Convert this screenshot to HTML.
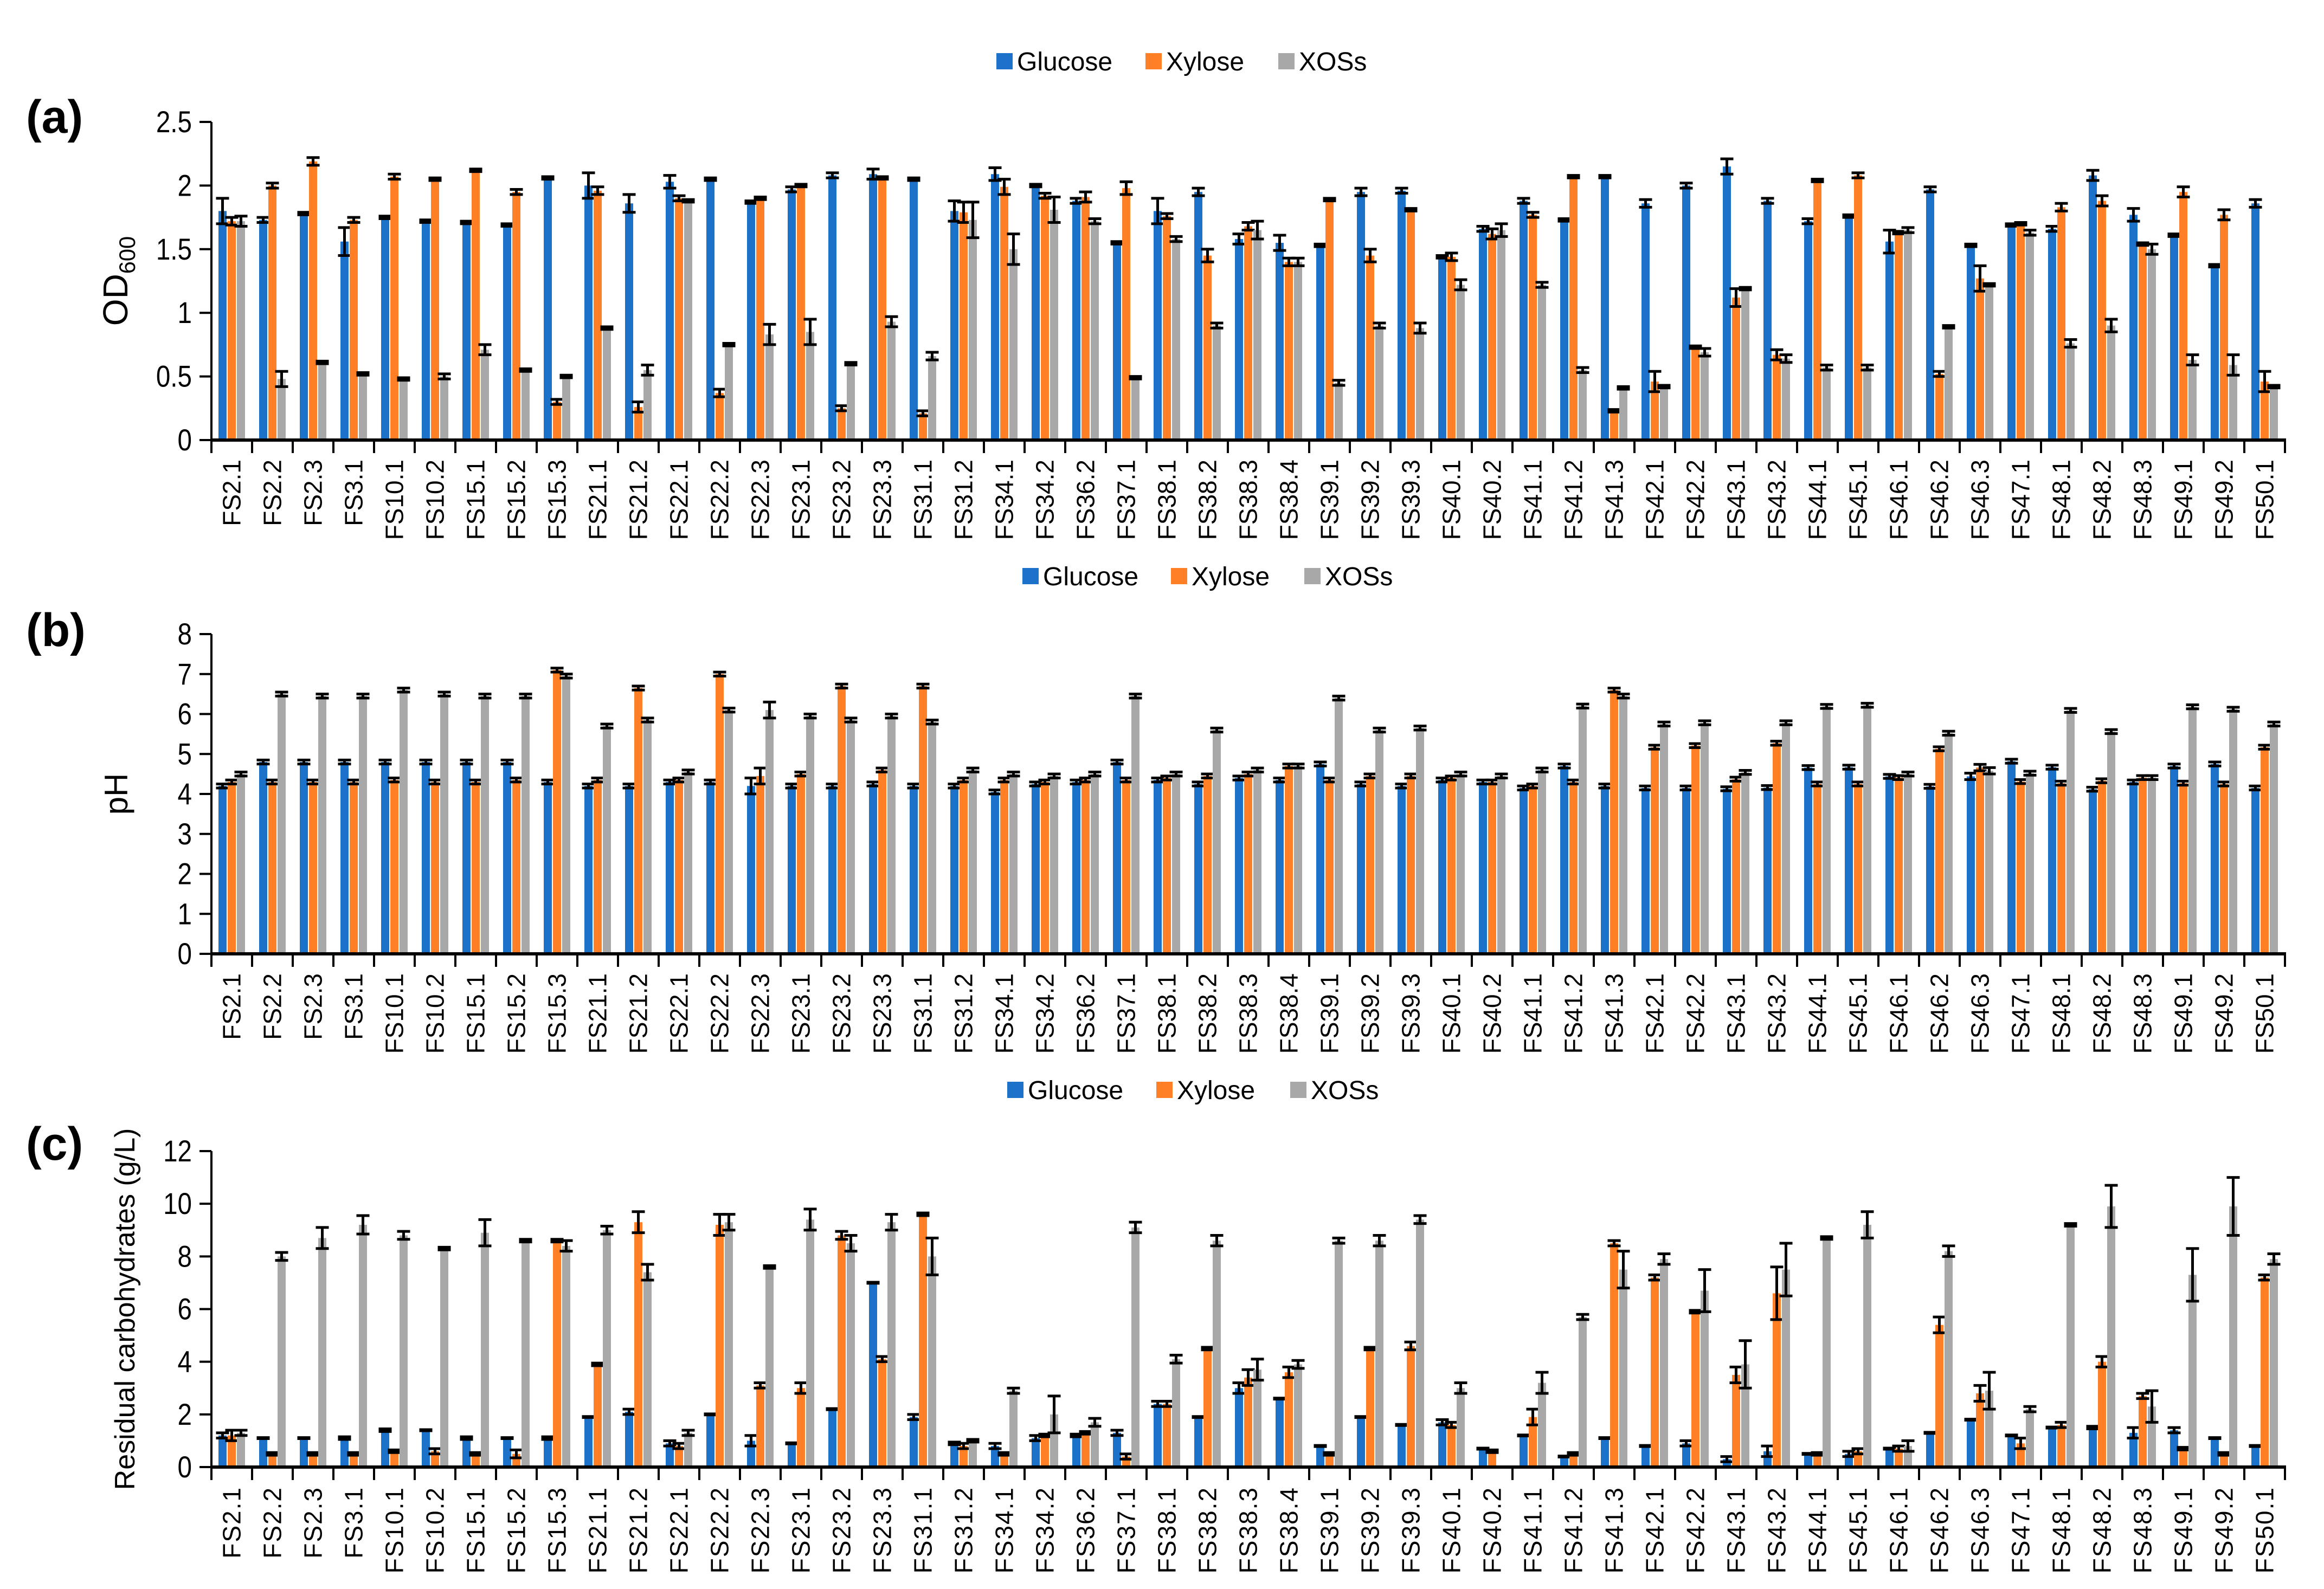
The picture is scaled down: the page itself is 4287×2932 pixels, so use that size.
<!DOCTYPE html>
<html><head><meta charset="utf-8">
<style>
html,body{margin:0;padding:0;background:#fff;}
svg{display:block;font-family:"Liberation Sans",Arial,sans-serif;}
</style></head>
<body>
<svg id="fig" xmlns="http://www.w3.org/2000/svg" width="4287" height="2932" viewBox="0 0 4287 2932"></svg>
<script>
const categories = ["FS2.1","FS2.2","FS2.3","FS3.1","FS10.1","FS10.2","FS15.1","FS15.2","FS15.3","FS21.1","FS21.2","FS22.1","FS22.2","FS22.3","FS23.1","FS23.2","FS23.3","FS31.1","FS31.2","FS34.1","FS34.2","FS36.2","FS37.1","FS38.1","FS38.2","FS38.3","FS38.4","FS39.1","FS39.2","FS39.3","FS40.1","FS40.2","FS41.1","FS41.2","FS41.3","FS42.1","FS42.2","FS43.1","FS43.2","FS44.1","FS45.1","FS46.1","FS46.2","FS46.3","FS47.1","FS48.1","FS48.2","FS48.3","FS49.1","FS49.2","FS50.1"];
const seriesNames = ["Glucose","Xylose","XOSs"];

// Panel (a) OD600
const odGlucose = [1.8,1.73,1.78,1.56,1.75,1.72,1.71,1.69,2.06,2.0,1.86,2.03,2.05,1.87,1.97,2.08,2.09,2.05,1.8,2.09,2.0,1.88,1.55,1.8,1.95,1.58,1.55,1.53,1.95,1.96,1.44,1.66,1.88,1.73,2.07,1.86,2.0,2.15,1.88,1.72,1.76,1.56,1.97,1.53,1.69,1.66,2.08,1.77,1.61,1.37,1.86];
const odXylose = [1.72,2.0,2.19,1.73,2.07,2.05,2.12,1.95,0.3,1.96,0.26,1.9,0.37,1.9,2.0,0.25,2.06,0.21,1.79,1.99,1.92,1.91,1.98,1.76,1.45,1.68,1.4,1.89,1.45,1.81,1.44,1.62,1.77,2.07,0.23,0.46,0.73,1.12,0.67,2.04,2.08,1.63,0.52,1.27,1.7,1.83,1.88,1.54,1.95,1.77,0.46];
const odXos = [1.72,0.48,0.61,0.52,0.48,0.5,0.71,0.55,0.5,0.88,0.55,1.88,0.75,0.83,0.85,0.6,0.93,0.66,1.73,1.5,1.81,1.72,0.49,1.58,0.9,1.65,1.4,0.45,0.9,0.88,1.22,1.65,1.22,0.55,0.41,0.42,0.69,1.19,0.64,0.57,0.57,1.65,0.89,1.22,1.63,0.76,0.9,1.5,0.63,0.59,0.42];
const odGlucoseErr = [0.1,0.02,0.01,0.11,0.01,0.01,0.01,0.01,0.01,0.1,0.07,0.05,0.01,0.01,0.02,0.02,0.04,0.01,0.08,0.05,0.01,0.02,0.01,0.1,0.03,0.04,0.06,0.01,0.03,0.02,0.01,0.02,0.02,0.01,0.01,0.03,0.02,0.06,0.02,0.02,0.01,0.09,0.02,0.01,0.01,0.02,0.04,0.05,0.01,0.01,0.03];
const odXyloseErr = [0.03,0.02,0.03,0.02,0.02,0.01,0.01,0.02,0.02,0.03,0.04,0.02,0.03,0.01,0.01,0.02,0.01,0.02,0.08,0.06,0.02,0.04,0.05,0.02,0.05,0.03,0.03,0.01,0.05,0.01,0.03,0.04,0.02,0.01,0.01,0.08,0.01,0.07,0.04,0.01,0.02,0.01,0.02,0.1,0.01,0.03,0.04,0.01,0.04,0.04,0.08];
const odXosErr = [0.04,0.06,0.01,0.01,0.01,0.02,0.04,0.01,0.01,0.01,0.04,0.01,0.01,0.08,0.1,0.01,0.04,0.03,0.14,0.12,0.1,0.02,0.01,0.02,0.02,0.07,0.03,0.02,0.02,0.04,0.04,0.05,0.02,0.02,0.01,0.01,0.03,0.01,0.03,0.02,0.02,0.02,0.01,0.01,0.02,0.03,0.05,0.04,0.04,0.08,0.01];

// Panel (b) pH
const phGlucose = [4.2,4.8,4.8,4.8,4.8,4.8,4.8,4.8,4.3,4.2,4.2,4.3,4.3,4.2,4.2,4.2,4.25,4.2,4.2,4.05,4.25,4.3,4.8,4.35,4.25,4.4,4.35,4.75,4.25,4.2,4.35,4.3,4.15,4.7,4.2,4.15,4.15,4.13,4.16,4.66,4.67,4.44,4.19,4.44,4.82,4.67,4.12,4.3,4.7,4.75,4.15];
const phXylose = [4.3,4.3,4.3,4.3,4.35,4.3,4.3,4.35,7.1,4.35,6.65,4.35,7.0,4.45,4.5,6.7,4.6,6.7,4.35,4.35,4.3,4.35,4.35,4.4,4.45,4.5,4.7,4.35,4.45,4.45,4.4,4.3,4.2,4.3,6.6,5.17,5.21,4.37,5.27,4.25,4.25,4.41,5.13,4.66,4.31,4.27,4.33,4.41,4.27,4.25,5.17];
const phXos = [4.5,6.5,6.45,6.45,6.6,6.5,6.45,6.45,6.95,5.7,5.85,4.55,6.1,6.1,5.95,5.85,5.95,5.8,4.6,4.5,4.45,4.5,6.45,4.5,5.6,4.6,4.7,6.4,5.6,5.65,4.5,4.45,4.6,6.2,6.45,5.75,5.78,4.54,5.78,6.19,6.22,4.5,5.52,4.58,4.52,6.09,5.56,4.41,6.18,6.12,5.75];
const phErr = [0.05,0.05,0.05,0.05,0.05,0.05,0.05,0.05,0.05,0.05,0.05,0.05,0.05,0.2,0.05,0.05,0.05,0.05,0.05,0.05,0.05,0.05,0.05,0.05,0.05,0.05,0.05,0.05,0.05,0.05,0.05,0.05,0.05,0.05,0.05,0.05,0.05,0.05,0.05,0.05,0.05,0.05,0.05,0.08,0.05,0.05,0.05,0.05,0.05,0.05,0.05];

// Panel (c) residual carbohydrates
const rcGlucose = [1.2,1.1,1.1,1.1,1.4,1.4,1.1,1.1,1.1,1.9,2.1,0.9,2.0,1.0,0.9,2.2,7.0,1.9,0.9,0.8,1.1,1.2,1.3,2.4,1.9,3.0,2.6,0.8,1.9,1.6,1.7,0.7,1.2,0.4,1.1,0.8,0.9,0.3,0.6,0.5,0.5,0.7,1.3,1.8,1.2,1.5,1.5,1.3,1.4,1.1,0.8];
const rcXylose = [1.2,0.5,0.5,0.5,0.6,0.6,0.5,0.5,8.6,3.9,9.3,0.8,9.2,3.1,3.0,8.8,4.1,9.6,0.8,0.5,1.2,1.3,0.4,2.4,4.5,3.4,3.6,0.5,4.5,4.6,1.6,0.6,1.9,0.5,8.5,7.2,5.9,3.5,6.6,0.5,0.6,0.7,5.4,2.8,0.9,1.6,4.0,2.7,0.7,0.5,7.2];
const rcXos = [1.3,8.0,8.7,9.2,8.8,8.3,8.9,8.6,8.4,9.0,7.4,1.3,9.3,7.6,9.4,8.5,9.3,8.0,1.0,2.9,2.0,1.7,9.1,4.1,8.6,3.7,3.9,8.6,8.6,9.4,3.0,0.0,3.2,5.7,7.5,7.9,6.7,3.9,7.5,8.7,9.2,0.8,8.2,2.9,2.2,9.2,9.9,2.3,7.3,9.9,7.9];
const rcGlucoseErr = [0.1,0.02,0.02,0.05,0.05,0.02,0.05,0.02,0.05,0.02,0.1,0.1,0.02,0.2,0.02,0.02,0.02,0.1,0.05,0.1,0.1,0.05,0.1,0.1,0.02,0.2,0.02,0.02,0.02,0.02,0.1,0.02,0.02,0.02,0.02,0.02,0.1,0.1,0.2,0.02,0.1,0.02,0.02,0.02,0.02,0.02,0.05,0.2,0.1,0.02,0.02];
const rcXyloseErr = [0.2,0.05,0.05,0.05,0.05,0.1,0.05,0.15,0.05,0.05,0.4,0.1,0.4,0.1,0.2,0.15,0.1,0.05,0.1,0.05,0.05,0.05,0.1,0.1,0.05,0.3,0.2,0.05,0.05,0.15,0.1,0.05,0.3,0.05,0.1,0.1,0.05,0.3,1.0,0.05,0.1,0.1,0.3,0.3,0.2,0.1,0.2,0.1,0.05,0.05,0.1];
const rcXosErr = [0.1,0.15,0.4,0.35,0.15,0.05,0.5,0.05,0.2,0.15,0.3,0.1,0.3,0.05,0.4,0.3,0.3,0.7,0.05,0.1,0.7,0.15,0.2,0.15,0.2,0.4,0.15,0.1,0.2,0.15,0.2,0.0,0.4,0.1,0.7,0.2,0.8,0.9,1.0,0.05,0.5,0.2,0.2,0.7,0.1,0.05,0.8,0.6,1.0,1.1,0.2];

const yTicksA = ["0","0.5","1","1.5","2","2.5"];
const yTicksB = ["0","1","2","3","4","5","6","7","8"];
const yTicksC = ["0","2","4","6","8","10","12"];

const colors = ["#1B72C8","#FF7F27","#A8A8A8"];
const svg = document.getElementById('fig');
const NS = "http://www.w3.org/2000/svg";
function mk(tag, attrs, parent){
  const e = document.createElementNS(NS, tag);
  for (const k in attrs) e.setAttribute(k, attrs[k]);
  (parent||svg).appendChild(e);
  return e;
}
const X0 = 390, CW = 75;
function xBand(i){ return X0 + i*CW; }

function panel(cfg){
  const g = mk('g', {});
  
  
  const yMax = cfg.yMax, y0 = cfg.y0, yTop = cfg.yTop;
  const yScale = v => y0 - (v/yMax)*(y0 - yTop);
  const pl = mk('text', {x: 48, y: cfg.labelY, 'font-size': 86, 'font-weight': 'bold', fill: '#000'}, g);
  pl.textContent = cfg.label;
  
  
  const lg = mk('g', {}, g);
  
  
  cfg.legendX.forEach((lx, s) => {
    const r = mk('rect', {x: lx, y: cfg.legendY - 32, width: 30, height: 30, fill: colors[s]}, lg);
    
    
    const t = mk('text', {x: lx + 38, y: cfg.legendY, 'font-size': 48, fill: '#000'}, lg);
    t.textContent = seriesNames[s];
    
    
  });
  cfg.ticks.forEach(tk => {
    const v = parseFloat(tk), y = yScale(v);
    const l = mk('line', {x1: X0 - 22, x2: X0, y1: y, y2: y, stroke: '#000', 'stroke-width': 4}, g);
    
    
    const t = mk('text', {transform: `translate(${X0 - 36},${y + 19}) scale(0.85,1)`, 'font-size': 56, 'text-anchor': 'end', fill: '#000'}, g);
    t.textContent = tk;
    
    
  });
  const yt = mk('text', {transform: `translate(${cfg.titleX},${(y0+yTop)/2}) rotate(-90)`, 'font-size': cfg.titleSize, 'text-anchor': 'middle', fill: '#000'}, g);
  
  
  if (cfg.sub) {
    yt.textContent = cfg.title;
    const ts = mk('tspan', {'font-size': cfg.titleSize*0.65, dy: 14}, yt);
    ts.textContent = cfg.sub;
  } else yt.textContent = cfg.title;
  const BW = 15, GAP = 2, off = (CW - (3*BW + 2*GAP))/2;
  categories.forEach((c, i) => {
    cfg.vals.forEach((arr, s) => {
      const v = arr[i], e = cfg.errs[s][i];
      const x = xBand(i) + off + s*(BW+GAP);
      const yv = yScale(v);
      const b = mk('rect', {x: x, y: yv, width: BW, height: Math.max(0, y0 - yv), fill: colors[s]}, g);
      
      
      if (v > 0) {
        const cx = x + BW/2, yh = yScale(v + e), yl = yScale(Math.max(0, v - e));
        const eb = mk('path', {d: `M${cx},${yh}V${yl}M${cx-12},${yh}H${cx+12}M${cx-12},${yl}H${cx+12}`, stroke: '#000', 'stroke-width': 5, fill: 'none'}, g);
        
        
      }
    });
    const tl = mk('line', {x1: xBand(i), x2: xBand(i), y1: y0, y2: y0 + 24, stroke: '#000', 'stroke-width': 4}, g);
    
    
    const cx = xBand(i) + CW/2;
    const t = mk('text', {transform: `translate(${cx + 16},${y0 + 36}) rotate(-90)`, 'font-size': 46, 'text-anchor': 'end', fill: '#000', 'letter-spacing': cfg.ls || 0}, g);
    t.textContent = c;
    
    
  });
  const lastTick = mk('line', {x1: xBand(categories.length), x2: xBand(categories.length), y1: y0, y2: y0 + 24, stroke: '#000', 'stroke-width': 4}, g);
  
  
  const ya = mk('line', {x1: X0, x2: X0, y1: yTop, y2: y0, stroke: '#000', 'stroke-width': 4}, g);
  
  
  const xa = mk('line', {x1: X0 - 2, x2: xBand(categories.length) + 2, y1: y0, y2: y0, stroke: '#000', 'stroke-width': 6}, g);
  
  
}

panel({name: 'panel-a-od600', label: '(a)', labelY: 245, legendX: [1838, 2113, 2358], legendY: 130,
  yMax: 2.5, y0: 812, yTop: 225, ticks: yTicksA, title: 'OD', sub: '600', titleX: 235, titleSize: 64,
  vals: [odGlucose, odXylose, odXos], errs: [odGlucoseErr, odXyloseErr, odXosErr]});
panel({name: 'panel-b-ph', label: '(b)', labelY: 1192, legendX: [1886, 2160, 2406], legendY: 1080,
  yMax: 8, y0: 1760, yTop: 1170, ticks: yTicksB, title: 'pH', titleX: 235, titleSize: 60,
  vals: [phGlucose, phXylose, phXos], errs: [phErr, phErr, phErr]});
panel({name: 'panel-c-residual', label: '(c)', labelY: 2140, legendX: [1858, 2133, 2380], legendY: 2028,
  yMax: 12, y0: 2707, yTop: 2124, ticks: yTicksC, title: 'Residual carbohydrates (g/L)', titleX: 248, titleSize: 52, ls: 2,
  vals: [rcGlucose, rcXylose, rcXos], errs: [rcGlucoseErr, rcXyloseErr, rcXosErr]});
</script>
</body></html>
